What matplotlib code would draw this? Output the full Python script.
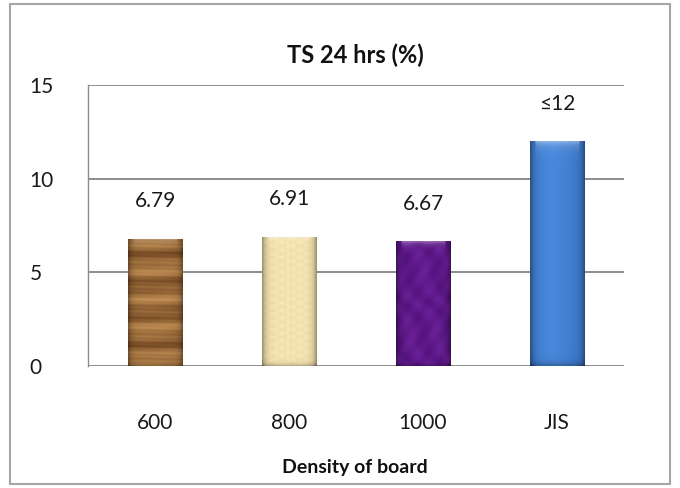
import numpy as np
import matplotlib.pyplot as plt
from matplotlib.patches import Rectangle

plt.rcParams['font.family'] = ['Lato', 'DejaVu Sans']

# Thickness swelling after 24 hours by board density
categories = ["600", "800", "1000", "JIS"]
ts_values = [6.79, 6.91, 6.67, 12]
value_labels = ["6.79", "6.91", "6.67", "≤12"]
y_ticks = [0, 5, 10, 15]

# dark / light tones for each bar fill
tones = [
    ((0.42, 0.25, 0.11), (0.76, 0.56, 0.33)),   # wood
    ((0.90, 0.80, 0.55), (0.99, 0.94, 0.77)),   # beige
    ((0.30, 0.05, 0.45), (0.45, 0.15, 0.64)),   # purple
    ((0.20, 0.42, 0.72), (0.28, 0.53, 0.86)),   # blue
]
patterns = ["wood", "paper", "marble", "plain"]


def bar_texture(kind, dark, light, ny=160, nx=40):
    y = np.linspace(1, 0, ny)[:, None]
    x = np.linspace(0, 1, nx)[None, :]
    if kind == "wood":
        t = 0.55 + 0.25 * np.sin(2 * np.pi * (4.3 * y + 0.03 * np.sin(5 * x))) \
            + 0.15 * np.sin(2 * np.pi * 9.7 * y + 1.3) \
            + 0.08 * np.sin(2 * np.pi * 31 * y + 2 * x)
    elif kind == "paper":
        t = 0.65 + 0.12 * np.sin(2 * np.pi * 17 * y) * np.sin(2 * np.pi * 3 * x + 1) \
            + 0.06 * np.sin(2 * np.pi * 9 * x)
    elif kind == "marble":
        t = 0.5 + 0.15 * np.sin(2 * np.pi * (2 * x + 3 * y) + 1.5 * np.sin(2 * np.pi * 2 * y)) \
            + 0.1 * np.sin(2 * np.pi * (5 * y - 3 * x))
    else:
        t = 0.45 + 0.55 * np.exp(-((x - 0.4) / 0.35) ** 2) + 0 * y
    t = np.clip(t, 0, 1)
    dark = np.array(dark)
    light = np.array(light)
    rgb = dark + (light - dark) * t[..., None]
    # bevel: darker sides and bottom, lighter top rim
    edge = 1 - 0.35 * (np.exp(-x / 0.06) + np.exp(-(1 - x) / 0.06)) - 0.25 * np.exp(-y / 0.015)
    rgb = rgb * np.clip(edge, 0.4, 1)[..., None]
    top = np.exp(-(1 - y) / 0.02) * (x > 0.08) * (x < 0.92)
    rgb = rgb + (1 - rgb) * 0.35 * top[..., None]
    return np.clip(rgb, 0, 1)


fig = plt.figure(figsize=(6.8, 4.88), dpi=100)
ax = fig.add_axes([88 / 680, 122 / 488, 536 / 680, 281 / 488])

xpos = np.arange(len(categories))
bars = ax.bar(xpos, ts_values, width=0.41, facecolor="none", edgecolor="none", zorder=3)

for b, (dark, light), kind in zip(bars, tones, patterns):
    x0, w, h = b.get_x(), b.get_width(), b.get_height()
    im = ax.imshow(bar_texture(kind, dark, light), extent=[x0, x0 + w, 0, h],
                   aspect="auto", interpolation="bilinear", zorder=3)
    im.set_clip_path(b)

for b, txt in zip(bars, value_labels):
    ax.annotate(txt, (b.get_x() + b.get_width() / 2, b.get_height()),
                xytext=(0, 27), textcoords="offset points",
                ha="center", va="center", fontsize=15, color="#1a1a1a")

ax.set_xlim(-0.5, len(categories) - 0.5)
ax.set_ylim(0, 15)
ax.set_yticks(y_ticks)
ax.set_xticks(xpos)
ax.set_xticklabels(categories)
ax.tick_params(axis="both", length=0, labelsize=15, colors="#1a1a1a")
ax.tick_params(axis="x", pad=34)
for lbl in ax.get_yticklabels():
    lbl.set_horizontalalignment("left")
ax.yaxis.set_tick_params(pad=42)

ax.grid(axis="y", color="#8c8c8c", linewidth=1.4)
ax.set_axisbelow(True)
for side in ["top", "right", "bottom"]:
    ax.spines[side].set_visible(False)
ax.spines["left"].set_color("#8c8c8c")
ax.spines["left"].set_linewidth(1.0)

fig.text(355 / 680, 1 - 55 / 488, "TS 24 hrs (%)", ha="center", va="center",
         fontsize=17, fontweight="bold", color="#111111")
fig.text(355 / 680, 1 - 467 / 488, "Density of board", ha="center", va="center",
         fontsize=14, fontweight="bold", color="#111111")

fig.patches.append(Rectangle((10 / 680, 4 / 488), 660 / 680, 480 / 488,
                             transform=fig.transFigure, fill=False,
                             edgecolor="#a6a6a6", linewidth=1.5))

fig.savefig("out.png", dpi=100, facecolor="white")
